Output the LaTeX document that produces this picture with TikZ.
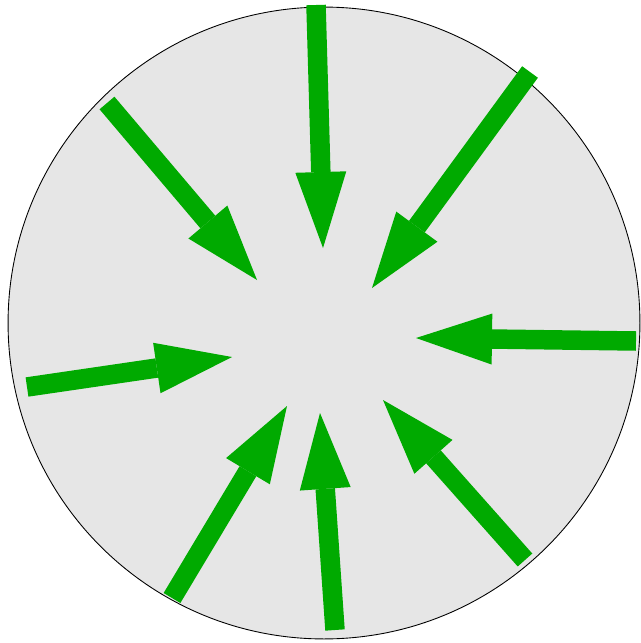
\documentclass[tikz,border=0pt]{standalone}
\usetikzlibrary{arrows.meta}
\definecolor{pushgreen}{RGB}{0,170,0}
\definecolor{discgray}{RGB}{230,230,230}
\begin{document}
\begin{tikzpicture}[x=0.02cm, y=-0.02cm,
      disc/.style={draw=black, fill=discgray, line width=0.5pt},
      push/.style={draw=pushgreen, line width=0.39cm, line cap=butt,
        -{Triangle[length=1.52cm 0, width=1.02cm 0, line width=0pt, fill=pushgreen]}}]
    \useasboundingbox (0,0) rectangle (641,643);
    \coordinate (centre) at (324,323);
    \draw[disc] (centre) circle[radius=6.32cm];
    % tail / tip pairs, in pixels of the reference
    \foreach \tx/\ty/\hx/\hy in {316/5/323/248, 530/72/372/288, 107/103/257/280,
        636/341/416/338, 27/387/232/357, 525/560/383/400, 335/630/320/413,
        172/598/287/406} {
      \coordinate (tail) at (\tx,\ty);
      \coordinate (tip) at (\hx,\hy);
      \draw[push] (tail) -- (tip);
    }
  \end{tikzpicture}
\end{document}
